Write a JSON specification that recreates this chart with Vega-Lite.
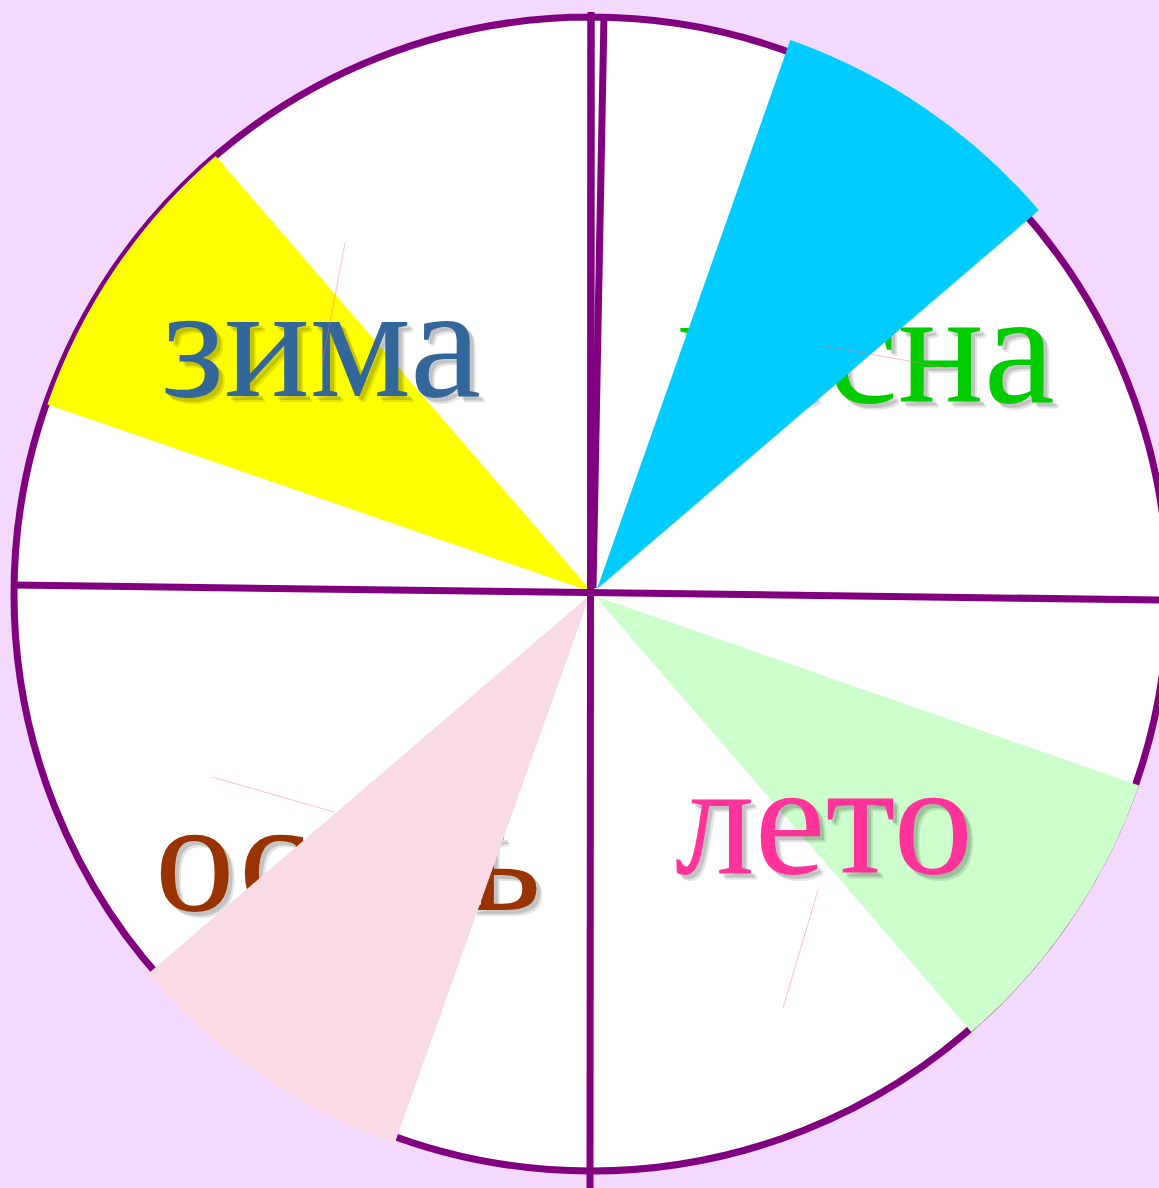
{
  "$schema": "https://vega.github.io/schema/vega-lite/v6.json",
  "width": 1159,
  "height": 1188,
  "autosize": {"type": "none"},
  "padding": 0,
  "background": "#f3d9fd",
  "config": {"view": {"stroke": null}, "axis": {"disable": true}},
  "datasets": {
    "wedges": [
      {"season": "зима", "cx": 592, "cy": 592, "a1": 289, "a2": 319.2},
      {"season": "весна", "cx": 597, "cy": 589, "a1": 19.4, "a2": 49.4},
      {"season": "лето", "cx": 595, "cy": 596, "a1": 109.2, "a2": 139.2},
      {"season": "осень", "cx": 590, "cy": 595, "a1": 199.6, "a2": 229.4}
    ],
    "words": [
      {"season": "зима", "x": 321, "y": 396},
      {"season": "весна", "x": 866, "y": 402},
      {"season": "лето", "x": 824, "y": 873},
      {"season": "осень", "x": 348, "y": 910}
    ],
    "lines": [
      {"x": 15, "y": 585, "x2": 1159, "y2": 600},
      {"x": 591, "y": 12, "x2": 590, "y2": 1188},
      {"x": 604, "y": 14, "x2": 593, "y2": 588}
    ],
    "faint": [
      {"x": 345, "y": 243, "x2": 322, "y2": 365},
      {"x": 825, "y": 346, "x2": 948, "y2": 368},
      {"x": 818, "y": 890, "x2": 783, "y2": 1008},
      {"x": 212, "y": 777, "x2": 334, "y2": 812}
    ]
  },
  "layer": [
    {
      "data": {"values": [{"cx": 591, "cy": 594, "a1": 0, "a2": 360}]},
      "mark": {"type": "arc", "radius": 577, "fill": "#ffffff", "stroke": "#800080", "strokeWidth": 7},
      "encoding": {
        "x": {"field": "cx", "type": "quantitative", "scale": {"domain": [0, 1159], "nice": false, "zero": false}, "axis": null},
        "y": {"field": "cy", "type": "quantitative", "scale": {"domain": [0, 1188], "nice": false, "zero": false, "reverse": true}, "axis": null},
        "theta": {"field": "a1", "type": "quantitative", "scale": {"domain": [0, 360], "range": [0, 6.283185307]}},
        "theta2": {"field": "a2"}
      }
    },
    {
      "data": {"name": "wedges"},
      "transform": [{"filter": "datum.season === 'зима' || datum.season === 'лето'"}],
      "mark": {"type": "arc", "radius": 576},
      "encoding": {
        "x": {"field": "cx", "type": "quantitative", "axis": null},
        "y": {"field": "cy", "type": "quantitative", "axis": null},
        "theta": {"field": "a1", "type": "quantitative"},
        "theta2": {"field": "a2"},
        "fill": {"field": "season", "type": "nominal", "legend": null,
          "scale": {"domain": ["зима", "весна", "лето", "осень"], "range": ["#ffff00", "#00ccff", "#ccffcc", "#f9dbe6"]}}
      }
    },
    {
      "data": {"name": "words"},
      "mark": {"type": "text", "font": "Liberation Serif", "fontSize": 160, "align": "center", "baseline": "alphabetic", "dx": 6, "dy": 6, "color": "#000000", "opacity": 0.1},
      "encoding": {
        "x": {"field": "x", "type": "quantitative", "axis": null},
        "y": {"field": "y", "type": "quantitative", "axis": null},
        "text": {"field": "season"}
      }
    },
    {
      "data": {"name": "words"},
      "mark": {"type": "text", "font": "Liberation Serif", "fontSize": 160, "align": "center", "baseline": "alphabetic", "dx": 4, "dy": 4, "color": "#000000", "opacity": 0.14},
      "encoding": {
        "x": {"field": "x", "type": "quantitative", "axis": null},
        "y": {"field": "y", "type": "quantitative", "axis": null},
        "text": {"field": "season"}
      }
    },
    {
      "data": {"name": "words"},
      "mark": {"type": "text", "font": "Liberation Serif", "fontSize": 160, "align": "center", "baseline": "alphabetic"},
      "encoding": {
        "x": {"field": "x", "type": "quantitative", "axis": null},
        "y": {"field": "y", "type": "quantitative", "axis": null},
        "text": {"field": "season"},
        "color": {"field": "season", "type": "nominal", "legend": null,
          "scale": {"domain": ["зима", "весна", "лето", "осень"], "range": ["#336699", "#00cc00", "#ff3399", "#993300"]}}
      }
    },
    {
      "data": {"name": "wedges"},
      "transform": [{"filter": "datum.season === 'весна' || datum.season === 'осень'"}],
      "mark": {"type": "arc", "radius": 582},
      "encoding": {
        "x": {"field": "cx", "type": "quantitative", "axis": null},
        "y": {"field": "cy", "type": "quantitative", "axis": null},
        "theta": {"field": "a1", "type": "quantitative"},
        "theta2": {"field": "a2"},
        "fill": {"field": "season", "type": "nominal", "legend": null}
      }
    },
    {
      "data": {"name": "lines"},
      "mark": {"type": "rule", "color": "#800080", "strokeWidth": 7},
      "encoding": {
        "x": {"field": "x", "type": "quantitative", "axis": null},
        "y": {"field": "y", "type": "quantitative", "axis": null},
        "x2": {"field": "x2"},
        "y2": {"field": "y2"}
      }
    },
    {
      "data": {"name": "faint"},
      "mark": {"type": "rule", "color": "#ff7070", "strokeWidth": 1, "opacity": 0.45},
      "encoding": {
        "x": {"field": "x", "type": "quantitative", "axis": null},
        "y": {"field": "y", "type": "quantitative", "axis": null},
        "x2": {"field": "x2"},
        "y2": {"field": "y2"}
      }
    }
  ]
}
